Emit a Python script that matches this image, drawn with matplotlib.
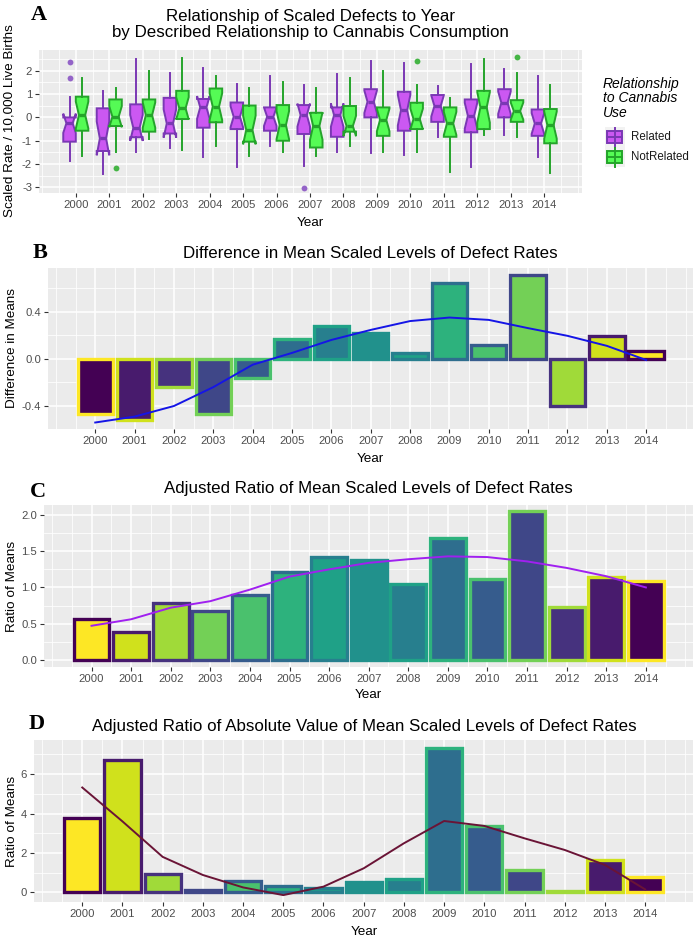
import matplotlib
matplotlib.use('Agg')
import matplotlib.pyplot as plt
import numpy as np
from matplotlib.patches import Rectangle

W, H = 696, 942
plt.rcParams['font.family'] = ['Liberation Sans', 'DejaVu Sans']

years = list(range(2000, 2015))

# Panel A: box summaries (Related)
rel_low = [-1.86, -2.44, -1.47, -1.30, -1.71, -2.14, -1.21, -2.09, -1.47, -1.51, -1.61, -0.86, -2.11, -0.76, -1.69]
rel_q1 = [-1.04, -1.44, -0.85, -0.69, -0.44, -0.50, -0.57, -0.71, -0.83, 0.00, -0.57, -0.19, -0.64, 0.00, -0.79]
rel_med = [-0.25, -0.90, -0.45, -0.26, 0.43, 0.03, 0.03, 0.10, 0.10, 0.67, 0.31, 0.49, 0.07, 0.63, -0.26]
rel_q3 = [0.00, 0.39, 0.56, 0.84, 0.79, 0.64, 0.43, 0.53, 0.43, 1.21, 1.10, 0.96, 0.77, 1.21, 0.34]
rel_high = [0.89, 1.13, 2.49, 1.91, 2.10, 1.43, 1.79, 1.39, 1.84, 2.41, 2.34, 1.36, 2.29, 2.07, 1.79]
rel_out = {2000: [2.36, 1.70], 2007: [-3.02]}

# Panel A: NotRelated
nr_low = [-1.64, -1.47, -0.94, -1.40, -1.21, -1.66, -1.47, -1.66, -1.21, -1.50, -1.50, -2.33, -0.76, -0.86, -2.37]
nr_q1 = [-0.57, -0.37, -0.61, -0.07, -0.21, -1.04, -1.00, -1.29, -0.61, -0.79, -0.50, -0.83, -0.50, -0.19, -1.11]
nr_med = [0.10, 0.03, 0.10, 0.39, 0.46, -0.54, -0.33, -0.37, -0.37, -0.11, -0.07, -0.26, 0.43, 0.27, -0.33]
nr_q3 = [0.89, 0.77, 0.77, 1.14, 1.24, 0.51, 0.53, 0.20, 0.49, 0.43, 0.63, 0.43, 1.14, 0.74, 0.36]
nr_high = [1.67, 1.24, 2.00, 2.53, 1.79, 1.24, 1.53, 1.24, 1.67, 2.00, 1.41, 0.84, 2.49, 1.89, 1.41]
nr_out = {2001: [-2.16], 2010: [2.40], 2013: [2.60]}
n_per_group = 16

# Panel B
diff_means = [-0.47, -0.52, -0.24, -0.47, -0.16, 0.17, 0.28, 0.22, 0.05, 0.64, 0.12, 0.71, -0.40, 0.195, 0.07]
diff_smooth = [-0.54, -0.49, -0.40, -0.24, -0.05, 0.05, 0.16, 0.245, 0.32, 0.35, 0.33, 0.26, 0.195, 0.11, -0.01]

# Panel C
ratio_means = [0.57, 0.39, 0.78, 0.68, 0.89, 1.22, 1.42, 1.385, 1.05, 1.69, 1.12, 2.06, 0.725, 1.145, 1.085]
ratio_smooth = [0.47, 0.56, 0.72, 0.81, 0.97, 1.15, 1.25, 1.34, 1.39, 1.43, 1.42, 1.36, 1.27, 1.155, 1.00]

# Panel D
abs_ratio = [3.75, 6.74, 0.93, 0.12, 0.57, 0.32, 0.20, 0.54, 0.68, 7.30, 3.38, 1.13, 0.08, 1.64, 0.79]
abs_smooth = [5.32, 3.60, 1.80, 0.88, 0.25, -0.14, 0.29, 1.22, 2.49, 3.62, 3.37, 2.74, 2.15, 1.39, 0.15]

viridis = plt.get_cmap('viridis')
vcols = [viridis(i / 14) for i in range(15)]

fig = plt.figure(figsize=(W / 100, H / 100), dpi=100)

TITLE_FS = 12.2
TICK_FS = 8.1
LAB_FS = 9.7


def px_axes(l, t, r, b):
    return fig.add_axes([l / W, 1 - b / H, (r - l) / W, (b - t) / H])


def ftext(x, y, s, **kw):
    fig.text(x / W, 1 - y / H, s, **kw)


def style(ax, ylim, yticks, yminor):
    ax.set_facecolor('#EBEBEB')
    ax.set_ylim(*ylim)
    ax.set_xticks(years)
    ax.set_xticks([v for v in np.arange(1999, 2015.01, 0.5) if v not in years], minor=True)
    ax.set_yticks(yticks)
    ax.set_yticks(yminor, minor=True)
    ax.grid(which='major', color='white', lw=1.1)
    ax.grid(which='minor', color='white', lw=0.55)
    ax.set_axisbelow(True)
    for s in ax.spines.values():
        s.set_visible(False)
    ax.tick_params(which='minor', length=0)
    ax.tick_params(which='major', length=3, width=0.8, color='#333333',
                   labelsize=TICK_FS, labelcolor='#4D4D4D', pad=2)


# ---------- Panel A ----------
axA = px_axes(39, 50, 582, 193)
axA.set_xlim(1998.9, 2015.13)
style(axA, (-3.24, 2.89), [-3, -2, -1, 0, 1, 2],
      [-2.5, -1.5, -0.5, 0.5, 1.5, 2.5])
axA.set_yticklabels(['-3', '-2', '-1', '0', '1', '2'])


def make_stats(low, q1, med, q3, high, outs):
    stats = []
    for i, y in enumerate(years):
        half = 1.58 * (q3[i] - q1[i]) / np.sqrt(n_per_group)
        stats.append(dict(med=med[i], q1=q1[i], q3=q3[i], whislo=low[i], whishi=high[i],
                          fliers=outs.get(y, []), cilo=med[i] - half, cihi=med[i] + half))
    return stats


groups = [
    (make_stats(rel_low, rel_q1, rel_med, rel_q3, rel_high, rel_out), -0.1875, '#CB58F2', '#7A38B4', '#9464C8'),
    (make_stats(nr_low, nr_q1, nr_med, nr_q3, nr_high, nr_out), 0.1875, '#55FB55', '#24A42A', '#45B545'),
]
for stats, off, fill, edge, fl in groups:
    axA.bxp(stats, positions=[y + off for y in years], widths=0.375, shownotches=True,
            patch_artist=True, showcaps=False,
            boxprops=dict(facecolor=fill, edgecolor=edge, lw=1.4),
            whiskerprops=dict(color=edge, lw=1.4),
            medianprops=dict(color=edge, lw=2.4),
            flierprops=dict(marker='o', markerfacecolor=fl, markeredgecolor='none', markersize=4.2))
axA.set_xticks(years)
axA.set_xticklabels([str(y) for y in years])
axA.set_xlim(1998.9, 2015.13)

ftext(310, 17, 'Relationship of Scaled Defects to Year', ha='center', va='center', fontsize=TITLE_FS)
ftext(310, 33, 'by Described Relationship to Cannabis Consumption', ha='center', va='center', fontsize=TITLE_FS)
ftext(310, 223, 'Year', ha='center', va='center', fontsize=LAB_FS)
ftext(10, 121, 'Scaled Rate / 10,000 Live Births', ha='center', va='center', rotation=90, fontsize=LAB_FS)

# legend
leg = fig.add_axes([598 / W, 1 - 175 / H, 98 / W, 105 / H])
leg.set_xlim(598, 696)
leg.set_ylim(175, 70)
leg.axis('off')
for i, line in enumerate(['Relationship', 'to Cannabis', 'Use']):
    leg.text(603, 84 + i * 14.5, line, fontsize=10, style='italic', va='center', ha='left')
for cy, lab, fill, edge in [(137, 'Related', '#CB58F2', '#7A38B4'), (157, 'NotRelated', '#55FB55', '#24A42A')]:
    leg.add_patch(Rectangle((605, cy - 10), 20, 20, facecolor='#F2F2F2', edgecolor='none'))
    leg.plot([615, 615], [cy - 9.5, cy + 9.5], color=edge, lw=1.4)
    leg.add_patch(Rectangle((607.5, cy - 6), 15, 12, facecolor=fill, edgecolor=edge, lw=1.4))
    leg.plot([607.5, 622.5], [cy, cy], color=edge, lw=1.4)
    leg.text(631, cy, lab, fontsize=8.3, va='center', ha='left', color='#1A1A1A')


def bar_panel(ax, vals, smooth, fills, edges, lcolor):
    ax.bar(years, vals, width=0.9, color=fills, edgecolor=edges, lw=2.4, zorder=2)
    ax.plot(years, smooth, color=lcolor, lw=1.4, zorder=3)
    ax.set_xlim(1998.8, 2015.19)


# ---------- Panel B ----------
axB = px_axes(48, 268, 693, 429)
style(axB, (-0.595, 0.77), [-0.4, 0.0, 0.4], [-0.2, 0.2, 0.6])
axB.set_yticklabels(['-0.4', '0.0', '0.4'])
bar_panel(axB, diff_means, diff_smooth, vcols, vcols[::-1], '#1515E6')
ftext(370, 253, 'Difference in Mean Scaled Levels of Defect Rates', ha='center', va='center', fontsize=TITLE_FS)
ftext(370, 459, 'Year', ha='center', va='center', fontsize=LAB_FS)
ftext(12, 348, 'Difference in Means', ha='center', va='center', rotation=90, fontsize=LAB_FS)

# ---------- Panel C ----------
axC = px_axes(44, 505, 693, 667)
style(axC, (-0.1, 2.14), [0, 0.5, 1.0, 1.5, 2.0], [0.25, 0.75, 1.25, 1.75])
axC.set_yticklabels(['0.0', '0.5', '1.0', '1.5', '2.0'])
bar_panel(axC, ratio_means, ratio_smooth, vcols[::-1], vcols, '#A020F0')
ftext(368, 489, 'Adjusted Ratio of Mean Scaled Levels of Defect Rates', ha='center', va='center', fontsize=TITLE_FS)
ftext(368, 695, 'Year', ha='center', va='center', fontsize=LAB_FS)
ftext(12, 586, 'Ratio of Means', ha='center', va='center', rotation=90, fontsize=LAB_FS)

# ---------- Panel D ----------
axD = px_axes(34, 740, 693, 902)
style(axD, (-0.49, 7.73), [0, 2, 4, 6], [1, 3, 5, 7])
axD.set_yticklabels(['0', '2', '4', '6'])
bar_panel(axD, abs_ratio, abs_smooth, vcols[::-1], vcols, '#6A1436')
ftext(364, 726, 'Adjusted Ratio of Absolute Value of Mean Scaled Levels of Defect Rates',
      ha='center', va='center', fontsize=TITLE_FS)
ftext(364, 932, 'Year', ha='center', va='center', fontsize=LAB_FS)
ftext(12, 821, 'Ratio of Means', ha='center', va='center', rotation=90, fontsize=LAB_FS)

# panel letters
for lab, x, y in [('A', 39, 15), ('B', 40, 253), ('C', 38, 492), ('D', 37, 724)]:
    ftext(x, y, lab, ha='center', va='center', fontsize=16, fontweight='bold',
          family='Liberation Serif')

fig.savefig('out.png', dpi=100)
